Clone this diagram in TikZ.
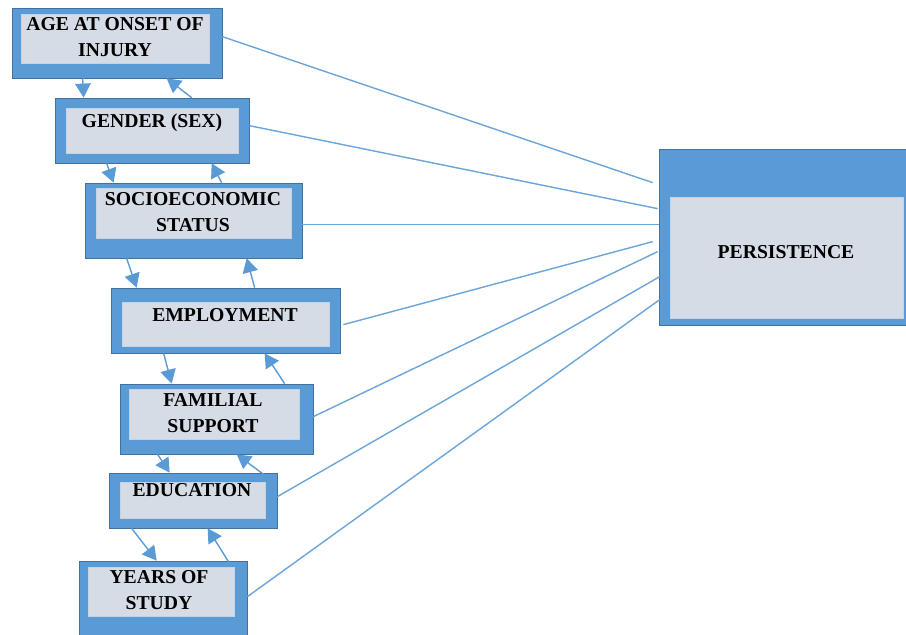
\documentclass[tikz,border=0pt]{standalone}
\usepackage{fontspec}
\setmainfont{Liberation Serif}
\usepackage{xcolor}
\usepackage{tikz}
\usetikzlibrary{arrows.meta}
\usetikzlibrary{calc}
\usetikzlibrary{positioning}
\newcommand{\upx}{0.025cm}
\definecolor{azul}{HTML}{5B9BD5}
\definecolor{azulesc}{HTML}{41719C}
\definecolor{cinza}{HTML}{D6DCE5}
\definecolor{borda}{HTML}{C5D3E6}
\tikzset{
  moldura/.style 2 args={draw=azulesc, line width=0.5pt, fill=azul, inner sep=0pt, minimum width=#1*\upx, minimum height=#2*\upx},
  miolo/.style 2 args={draw=borda, line width=0.6pt, fill=cinza, inner sep=0pt, minimum width=#1*\upx, minimum height=#2*\upx},
  rotulo/.style={align=center, inner sep=0pt, font=\fontsize{14}{18.5}\selectfont\bfseries},
  seta/.style={-{Triangle[width=11pt,length=10pt]}, draw=azul, line width=1pt},
  liga/.style={draw=azul!90!white, line width=1pt},
}

\begin{document}
\begin{tikzpicture}[x=\upx, y=-\upx]
  \useasboundingbox (0,0) rectangle (906,635);

  % fatores
  \node[moldura={210}{70}] (idade) at (117,43) {};
  \node[miolo={188}{49}] (idade-m) at (115,38.5) {};
  \node[rotulo] (idade-t) at (115,37) {AGE AT ONSET OF\\INJURY};

  \node[moldura={194}{65}] (genero) at (152,130.5) {};
  \node[miolo={172}{45}] (genero-m) at (152,130.5) {};
  \node[rotulo] (genero-t) at (152,123) {GENDER (SEX)};

  \node[moldura={217}{75}] (renda) at (193.5,220.5) {};
  \node[miolo={195}{50}] (renda-m) at (193.5,213) {};
  \node[rotulo] (renda-t) at (193,212.5) {SOCIOECONOMIC\\STATUS};

  \node[moldura={229}{65}] (emprego) at (225.5,320.5) {};
  \node[miolo={207}{44}] (emprego-m) at (225.5,324) {};
  \node[rotulo] (emprego-t) at (225,315) {EMPLOYMENT};

  \node[moldura={193}{70}] (familia) at (216.5,419) {};
  \node[miolo={170}{50}] (familia-m) at (214,414) {};
  \node[rotulo] (familia-t) at (213,413.5) {FAMILIAL\\SUPPORT};

  \node[moldura={168}{55}] (educacao) at (193,500.5) {};
  \node[miolo={145}{36}] (educacao-m) at (192.5,500) {};
  \node[rotulo] (educacao-t) at (192,490) {EDUCATION};

  \node[moldura={168}{74}] (anos) at (163,598) {};
  \node[miolo={146}{49}] (anos-m) at (161,591.5) {};
  \node[rotulo] (anos-t) at (159,590.5) {YEARS OF\\STUDY};

  % desfecho
  \node[moldura={247}{176}] (persist) at (782.5,237) {};
  \node[miolo={233}{121}] (persist-m) at (786.5,257.5) {};
  \node[rotulo] (persist-t) at (786,252) {PERSISTENCE};

  % setas entre fatores vizinhos
  \draw[seta] ($(idade.south west)+(71,0)$) -- ($(genero.north west)+(29,0)$);
  \draw[seta] ($(genero.north west)+(137,0)$) -- ($(idade.south west)+(155,0)$);
  \draw[seta] ($(genero.south west)+(52,0)$) -- ($(renda.north west)+(29,0)$);
  \draw[seta] ($(renda.north west)+(137,0)$) -- ($(genero.south west)+(157,0)$);
  \draw[seta] ($(renda.south west)+(42,0)$) -- ($(emprego.north west)+(26,0)$);
  \draw[seta] ($(emprego.north west)+(144,0)$) -- ($(renda.south west)+(162,0)$);
  \draw[seta] ($(emprego.south west)+(53,0)$) -- ($(familia.north west)+(52,0)$);
  \draw[seta] ($(familia.north west)+(165,0)$) -- ($(emprego.south west)+(154,0)$);
  \draw[seta] ($(familia.south west)+(38,0)$) -- ($(educacao.north west)+(61,0)$);
  \draw[seta] ($(educacao.north west)+(158,4)$) -- ($(familia.south west)+(117,0)$);
  \draw[seta] ($(educacao.south west)+(23,0)$) -- ($(anos.north west)+(78,0)$);
  \draw[seta] ($(anos.north west)+(153,6)$) -- ($(educacao.south west)+(99,0)$);

  % ligacoes com o desfecho
  \draw[liga] ($(idade.north east)+(0,29)$) -- ($(persist.north west)+(-6,34)$);
  \draw[liga] ($(genero.north east)+(0,28)$) -- ($(persist.north west)+(-1,60)$);
  \draw[liga] ($(renda.north east)+(0,42)$) -- ($(persist.north west)+(0,76)$);
  \draw[liga] ($(emprego.north east)+(3,37)$) -- ($(persist.north west)+(-6,93)$);
  \draw[liga] ($(familia.north east)+(0,33)$) -- ($(persist.north west)+(-1,103)$);
  \draw[liga] ($(educacao.north east)+(0,24)$) -- ($(persist.north west)+(1,128)$);
  \draw[liga] ($(anos.north east)+(0,36)$) -- ($(persist.north west)+(1,151)$);
\end{tikzpicture}
\end{document}
